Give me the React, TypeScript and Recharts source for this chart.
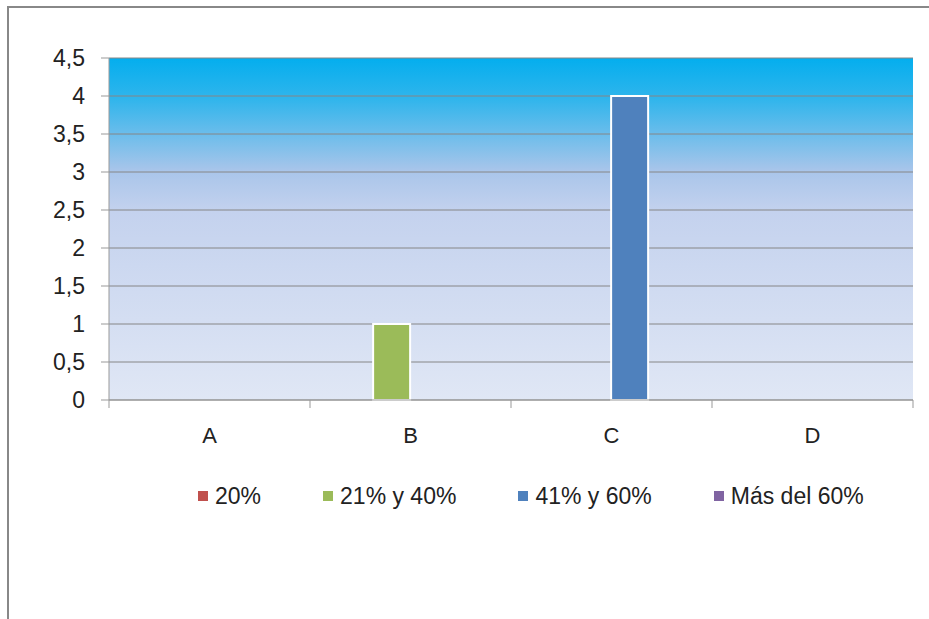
import React from "react";
import {
  BarChart,
  Bar,
  XAxis,
  YAxis,
  CartesianGrid,
  Legend,
} from "recharts";

const categories = ["A", "B", "C", "D"];
const serie20 = [0, 0, 0, 0];
const serie21a40 = [0, 1, 0, 0];
const serie41a60 = [0, 0, 4, 0];
const serieMas60 = [0, 0, 0, 0];
const yTicks = [0, 0.5, 1, 1.5, 2, 2.5, 3, 3.5, 4, 4.5];
const boundaryTicks = [0, 1, 2, 3, 4];

const data = categories.map((c, i) => ({
  cat: c,
  pos: i + 0.5,
  s1: serie20[i],
  s2: serie21a40[i],
  s3: serie41a60[i],
  s4: serieMas60[i],
}));

const font = "'Liberation Sans', Arial, sans-serif";

const renderLegend = (props: any) => {
  const { payload } = props;
  return (
    <div
      style={{
        display: "flex",
        whiteSpace: "nowrap",
        fontFamily: font,
        fontSize: 23,
        color: "#222",
        lineHeight: "28px",
        height: 28,
      }}
    >
      {payload.map((p: any) => (
        <div key={p.value} style={{ display: "flex", alignItems: "center", flexShrink: 0, marginRight: 62 }}>
          <span style={{ width: 10, height: 10, background: p.color, display: "inline-block", marginRight: 7 }} />
          <span>{p.value}</span>
        </div>
      ))}
    </div>
  );
};

export default function App() {
  return (
    <div style={{ position: "absolute", left: 0, top: 0, width: 929, height: 619, background: "#fff", overflow: "hidden" }}>
      <div
        style={{
          position: "absolute",
          left: 7,
          top: 6,
          width: 940,
          height: 640,
          borderTop: "2px solid #888",
          borderLeft: "2px solid #888",
        }}
      />
      <div style={{ position: "absolute", left: 0, top: 0 }}>
        <BarChart
          width={929}
          height={619}
          data={data}
          margin={{ top: 58, right: 16, left: 49, bottom: 151 }}
          barCategoryGap="13%"
          barGap={0}
        >
          <defs>
            <linearGradient id="bg" x1="0" y1="0" x2="0" y2="1">
              <stop offset="0" stopColor="#04AEEE" />
              <stop offset="0.12" stopColor="#30B5EC" />
              <stop offset="0.33" stopColor="#A9C5EA" />
              <stop offset="0.45" stopColor="#C4D2EE" />
              <stop offset="1" stopColor="#E0E7F5" />
            </linearGradient>
          </defs>
          <CartesianGrid vertical={false} stroke="#868686" fill="url(#bg)" fillOpacity={1} />
          <XAxis
            xAxisId="a0"
            type="number"
            dataKey="pos"
            domain={[0, 4]}
            ticks={boundaryTicks}
            interval={0}
            tickFormatter={() => ""}
            tickSize={8}
            height={10}
            stroke="#999"
          />
          <XAxis
            xAxisId="b1"
            dataKey="cat"
            axisLine={false}
            tickLine={false}
            height={30}
            tick={{ fill: "#222", fontSize: 22, fontFamily: font }}
            dy={9}
          />
          <YAxis
            domain={[0, 4.5]}
            ticks={yTicks}
            interval={0}
            width={60}
            tickSize={8}
            stroke="#999"
            tick={{ fill: "#222", fontSize: 23, fontFamily: font, dx: -14 }}
            tickFormatter={(v: number) => String(v).replace(".", ",")}
          />
          <Legend
            content={renderLegend}
            wrapperStyle={{ left: 198, top: 482, width: 731, height: 28 }}
          />
          <Bar xAxisId="b1" dataKey="s1" name="20%" fill="#C0504D" stroke="#fff" strokeWidth={2} isAnimationActive={false} />
          <Bar xAxisId="b1" dataKey="s2" name="21% y 40%" fill="#9BBB59" stroke="#fff" strokeWidth={2} isAnimationActive={false} />
          <Bar xAxisId="b1" dataKey="s3" name="41% y 60%" fill="#4F81BD" stroke="#fff" strokeWidth={2} isAnimationActive={false} />
          <Bar xAxisId="b1" dataKey="s4" name="Más del 60%" fill="#8064A2" stroke="#fff" strokeWidth={2} isAnimationActive={false} />
        </BarChart>
      </div>
    </div>
  );
}
